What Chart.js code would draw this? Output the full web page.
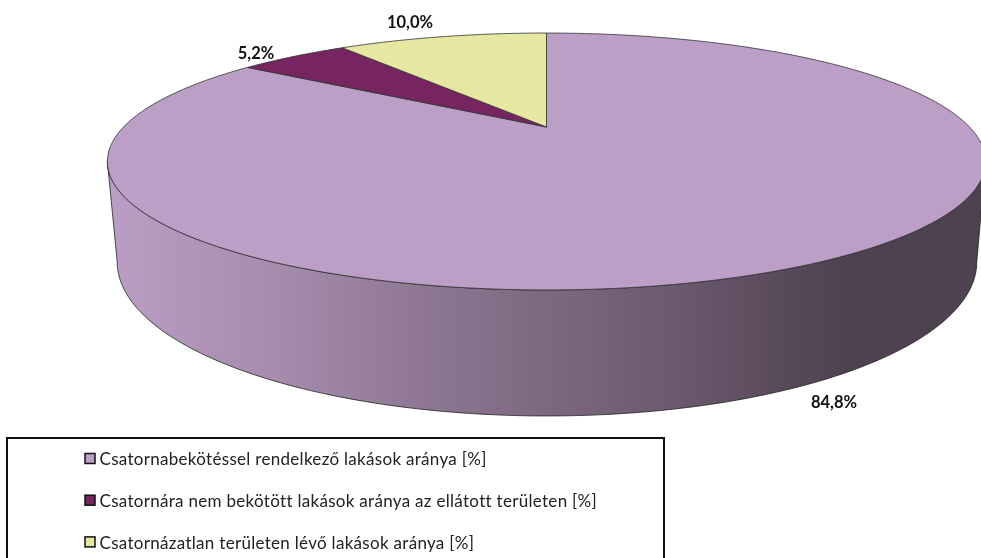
<!DOCTYPE html>
<html>
<head>
<meta charset="utf-8">
<script src="https://cdn.jsdelivr.net/npm/chart.js@4"></script>
<style>
  html, body { margin: 0; padding: 0; background: #fff; overflow: hidden; }
  canvas { display: block; }
</style>
</head>
<body>
<canvas id="myChart" width="981" height="558"></canvas>
<script>
const categories = [
    'Csatornabekötéssel rendelkező lakások aránya [%]',
    'Csatornára nem bekötött lakások aránya az ellátott területen [%]',
    'Csatornázatlan területen lévő lakások aránya [%]'
];
const shares = [84.8, 5.2, 10.0];
const sliceColors = ['#bc9fc7', '#772561', '#e6e8a1'];

// perspective of the disc: k tilts it, top and bottom are the two faces
const k = 0.2685;
const topFace = { cx: 546.5, cy: 127, sx: 423, sy: 119.2 };
const bottomFace = { cx: 547, cy: 220.6, sx: 414, sy: 142.9 };

function project(face, angle) {
    const X = Math.cos(angle);
    const Y = -Math.sin(angle);
    const w = 1 + k * Y;
    return { x: face.cx + face.sx * X / w, y: face.cy - face.sy * Y / w };
}

function traceArc(ctx, face, from, to) {
    const steps = Math.max(2, Math.ceil(Math.abs(to - from) * 60));
    for (let i = 0; i <= steps; i++) {
        const p = project(face, from + (to - from) * i / steps);
        ctx.lineTo(p.x, p.y);
    }
}

function drawWall(ctx) {
    // the silhouette touches the ellipse where Y = -k
    const right = Math.asin(k);
    const left = Math.PI - right;
    ctx.beginPath();
    traceArc(ctx, bottomFace, right, left);
    traceArc(ctx, topFace, left, right);
    ctx.closePath();
    const g = ctx.createLinearGradient(118, 0, 976, 0);
    g.addColorStop(0, '#b99dc4');
    g.addColorStop(0.19, '#a58bac');
    g.addColorStop(0.38, '#8b7490');
    g.addColorStop(0.63, '#6e5b70');
    g.addColorStop(0.85, '#4e4150');
    g.addColorStop(1, '#4e4150');
    ctx.fillStyle = g;
    ctx.fill();
    ctx.strokeStyle = '#222';
    ctx.lineWidth = 0.8;
    ctx.stroke();
}

const pie3d = {
    id: 'pie3d',
    afterLayout(chart) {
        // legend sits in its own frame under the pie
        const legend = chart.legend;
        legend.left = 65.9;
        legend.right = 660;
        legend.top = 426;
        legend.bottom = 700;
    },
    beforeDraw(chart) {
        chart.ctx.letterSpacing = '0.3px';
    },
    beforeDatasetsDraw(chart) {
        const ctx = chart.ctx;
        ctx.save();
        drawWall(ctx);
        chart.getDatasetMeta(0).data.forEach((arc, i) => {
            ctx.beginPath();
            ctx.moveTo(topFace.cx, topFace.cy);
            traceArc(ctx, topFace, arc.startAngle, arc.endAngle);
            ctx.closePath();
            ctx.fillStyle = sliceColors[i];
            ctx.fill();
            ctx.strokeStyle = '#333';
            ctx.lineWidth = 0.8;
            ctx.stroke();
        });
        ctx.restore();
        return false;
    },
    afterDraw(chart) {
        const ctx = chart.ctx;
        ctx.letterSpacing = '0px';
        ctx.save();
        ctx.strokeStyle = '#111';
        ctx.lineWidth = 2;
        ctx.strokeRect(7, 438, 657, 124);

        // legend markers
        ctx.lineWidth = 1.5;
        sliceColors.forEach((c, i) => {
            ctx.fillStyle = c;
            ctx.fillRect(85, 453.5 + i * 41.7, 10, 10);
            ctx.strokeRect(85, 453.5 + i * 41.7, 10, 10);
        });

        ctx.fillStyle = '#111';
        ctx.font = 'bold 16.5px Lato';
        ctx.textAlign = 'center';
        ctx.textBaseline = 'middle';
        const spots = [[834, 403], [256, 54], [410, 23]];
        shares.forEach((v, i) => {
            ctx.fillText(v.toFixed(1).replace('.', ',') + '%', spots[i][0], spots[i][1]);
        });
        ctx.restore();
    }
};

const ctx = document.getElementById('myChart').getContext('2d');

const myChart = new Chart(ctx, {
    type: 'pie',
    data: {
        labels: categories,
        datasets: [{
            data: shares,
            backgroundColor: sliceColors,
            borderColor: '#1a1a1a',
            borderWidth: 1.5
        }]
    },
    options: {
        responsive: false,
        animation: false,
        plugins: {
            tooltip: { enabled: false },
            legend: {
                position: 'left',
                align: 'start',
                maxWidth: 600,
                labels: {
                    boxWidth: 0,
                    boxHeight: 10,
                    padding: 25.1,
                    color: '#222',
                    font: { family: 'Lato', size: 17 }
                }
            }
        }
    },
    plugins: [pie3d]
});
</script>
</body>
</html>
